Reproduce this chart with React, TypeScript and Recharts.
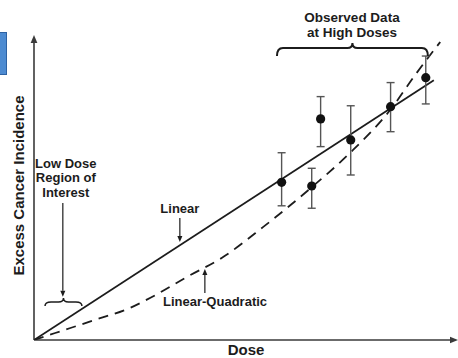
import {
  ComposedChart,
  ErrorBar,
  Line,
  ReferenceDot,
  ReferenceLine,
  Scatter,
  XAxis,
  YAxis,
} from "recharts";

// Dose and incidence are on a 0–100 relative scale (no units on the axes).
const linearModel = [
  { dose: 0, inc: 0 },
  { dose: 94.3, inc: 85.2 },
];

const lqDose = [0, 5, 14.4, 22.6, 27.8, 36.1, 44.6, 54, 65.6, 74.5, 84, 89.9, 95.8];
const lqInc = [0, 2.3, 6.6, 10.5, 14.1, 20.7, 27.2, 37, 50.2, 61.3, 75.4, 86.9, 97.7];

// observed points at high doses, with lower / upper ends of the error bars
const obsDose = [58.4, 65.5, 67.6, 74.7, 84.1, 92.4];
const obsInc = [51.7, 50.5, 72.5, 65.6, 76.5, 86.0];
const obsLow = [44.0, 43.2, 63.4, 54.1, 68.3, 77.4];
const obsHigh = [61.4, 56.3, 79.8, 76.8, 84.4, 93.1];

const lqModel = lqDose.map((d, i) => ({ dose: d, inc: lqInc[i] }));
const observed = obsDose.map((d, i) => ({
  dose: d,
  inc: obsInc[i],
  err: [obsInc[i] - obsLow[i], obsHigh[i] - obsInc[i]],
}));

const INK = "#1c1c1c";
const FONT = "'Liberation Sans', Arial, Helvetica, sans-serif";

function Arrow(props: any) {
  const { x1, y1, x2, y2, color = INK, head = 7, sw = 1.4 } = props;
  const a = Math.atan2(y2 - y1, x2 - x1);
  const bx = x2 - head * Math.cos(a);
  const by = y2 - head * Math.sin(a);
  const hw = head * 0.42;
  const px = -Math.sin(a) * hw;
  const py = Math.cos(a) * hw;
  return (
    <g>
      <line x1={x1} y1={y1} x2={bx} y2={by} stroke={color} strokeWidth={sw} />
      <polygon
        points={`${x2},${y2} ${bx + px},${by + py} ${bx - px},${by - py}`}
        fill={color}
      />
    </g>
  );
}

// horizontal curly brace opening downward, tip pointing up at the middle
function Brace(props: any) {
  const { x1, y1, x2, curl = 7, tip = 5, sw = 2 } = props;
  const xm = (x1 + x2) / 2;
  const y = y1;
  const d = [
    `M ${x1} ${y + curl}`,
    `Q ${x1} ${y} ${x1 + 6} ${y}`,
    `L ${xm - 5} ${y}`,
    `Q ${xm} ${y} ${xm} ${y - tip}`,
    `Q ${xm} ${y} ${xm + 5} ${y}`,
    `L ${x2 - 6} ${y}`,
    `Q ${x2} ${y} ${x2} ${y + curl}`,
  ].join(" ");
  return <path d={d} fill="none" stroke={INK} strokeWidth={sw} />;
}

function Note(props: any) {
  const { cx, cy, lines, size = 13, lh = 15 } = props;
  return (
    <text
      x={cx}
      y={cy}
      textAnchor="middle"
      fontFamily={FONT}
      fontWeight="bold"
      fontSize={size}
      fill={INK}
    >
      {lines.map((t: string, i: number) => (
        <tspan key={t} x={cx} dy={i === 0 ? "0.35em" : lh}>
          {t}
        </tspan>
      ))}
    </text>
  );
}

export default function App() {
  return (
    <div
      style={{
        position: "absolute",
        left: 0,
        top: 0,
        width: 458,
        height: 358,
        background: "#fff",
        fontFamily: FONT,
      }}
    >
      <ComposedChart width={458} height={358} margin={{ top: 35, right: 0, bottom: 0, left: 0 }}>
        <XAxis
          type="number"
          dataKey="dose"
          domain={[0, 100]}
          allowDataOverflow
          height={18}
          tick={false}
          tickLine={false}
          axisLine={false}
          label={{
            value: "Dose",
            position: "center",
            dy: 1,
            style: { fontFamily: FONT, fontWeight: "bold", fontSize: 15, fill: INK },
          }}
        />
        <YAxis
          type="number"
          dataKey="inc"
          domain={[0, 100]}
          allowDataOverflow
          width={34}
          tick={false}
          tickLine={false}
          axisLine={false}
          label={{
            value: "Excess Cancer Incidence",
            angle: -90,
            position: "center",
            dx: 2,
            dy: -2,
            style: { fontFamily: FONT, fontWeight: "bold", fontSize: 15, fill: INK, textAnchor: "middle" },
          }}
        />

        {/* axes with arrowheads */}
        <ReferenceLine
          segment={[{ x: 0, y: 0 }, { x: 100, y: 0 }]}
          ifOverflow="visible"
          shape={(p: any) => <Arrow {...p} color="#3a3a3a" sw={1.6} head={8} />}
        />
        <ReferenceLine
          segment={[{ x: 0, y: 0 }, { x: 0, y: 100 }]}
          ifOverflow="visible"
          shape={(p: any) => <Arrow {...p} color="#3a3a3a" sw={1.6} head={8} />}
        />

        <Line
          data={linearModel}
          dataKey="inc"
          type="linear"
          stroke={INK}
          strokeWidth={1.8}
          dot={false}
          activeDot={false}
          isAnimationActive={false}
        />
        <Line
          data={lqModel}
          dataKey="inc"
          type="monotone"
          stroke={INK}
          strokeWidth={1.8}
          strokeDasharray="10 7"
          dot={false}
          activeDot={false}
          isAnimationActive={false}
        />
        <Scatter
          data={observed}
          isAnimationActive={false}
          shape={(p: any) => <circle cx={p.cx} cy={p.cy} r={4.6} fill="#111" />}
        >
          <ErrorBar dataKey="err" direction="y" width={4} stroke="#555" strokeWidth={1.4} />
        </Scatter>

        {/* annotations */}
        <ReferenceLine
          segment={[{ x: 57.3, y: 95.7 }, { x: 92.9, y: 95.7 }]}
          ifOverflow="visible"
          shape={(p: any) => <Brace {...p} curl={8} tip={5} />}
        />
        <ReferenceDot
          x={75}
          y={105.9}
          ifOverflow="visible"
          shape={(p: any) => <Note {...p} lines={["Observed Data", "at High Doses"]} size={13.5} lh={15} />}
        />

        <ReferenceLine
          segment={[{ x: 2.6, y: 12.5 }, { x: 11.3, y: 12.5 }]}
          ifOverflow="visible"
          shape={(p: any) => <Brace {...p} curl={4} tip={4} sw={1.5} />}
        />
        <ReferenceLine
          segment={[{ x: 6.8, y: 44.9 }, { x: 6.8, y: 14.2 }]}
          ifOverflow="visible"
          shape={(p: any) => <Arrow {...p} sw={1.2} head={6} />}
        />
        <ReferenceDot
          x={7.5}
          y={58}
          ifOverflow="visible"
          shape={(p: any) => <Note {...p} lines={["Low Dose", "Region of", "Interest"]} size={13} lh={14.5} />}
        />

        <ReferenceLine
          segment={[{ x: 34.4, y: 40 }, { x: 34.4, y: 32.1 }]}
          ifOverflow="visible"
          shape={(p: any) => <Arrow {...p} sw={1.2} head={6} />}
        />
        <ReferenceDot
          x={34.4}
          y={43}
          ifOverflow="visible"
          shape={(p: any) => <Note {...p} lines={["Linear"]} />}
        />

        <ReferenceLine
          segment={[{ x: 40.3, y: 15.4 }, { x: 40.3, y: 23.3 }]}
          ifOverflow="visible"
          shape={(p: any) => <Arrow {...p} sw={1.2} head={6} />}
        />
        <ReferenceDot
          x={42.7}
          y={12.5}
          ifOverflow="visible"
          shape={(p: any) => <Note {...p} lines={["Linear-Quadratic"]} />}
        />
      </ComposedChart>
      <div
        style={{
          position: "absolute",
          left: 0,
          top: 32,
          width: 6,
          height: 41,
          background: "#4d8bd1",
          border: "1px solid #2d62a3",
          borderLeft: "none",
        }}
      />
    </div>
  );
}
